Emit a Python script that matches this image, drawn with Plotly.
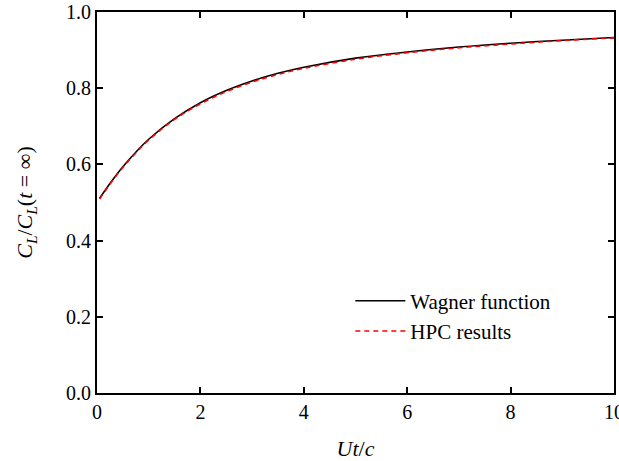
import plotly.graph_objects as go

# Values
ut_c = [0.05, 0.25, 0.5, 0.75, 1.0, 1.5, 2.0, 2.5, 3.0, 3.5, 4.0, 5.0, 6.0, 7.0, 8.0, 9.0, 10.0]
wagner = [0.511, 0.550, 0.594, 0.632, 0.666, 0.720, 0.762, 0.794, 0.819, 0.839, 0.855, 0.879, 0.895, 0.908, 0.918, 0.926, 0.933]
hpc = [0.509, 0.548, 0.592, 0.630, 0.664, 0.718, 0.759, 0.791, 0.816, 0.836, 0.852, 0.876, 0.893, 0.906, 0.916, 0.925, 0.932]

x_ticks = [0, 2, 4, 6, 8, 10]
y_ticks = [0.0, 0.2, 0.4, 0.6, 0.8, 1.0]

FONT = "Liberation Serif, Times New Roman, serif"

fig = go.Figure()
fig.add_trace(go.Scatter(x=ut_c, y=wagner, mode="lines", name="Wagner function",
                         line=dict(color="black", width=1.6, shape="spline")))
fig.add_trace(go.Scatter(x=ut_c, y=hpc, mode="lines", name="HPC results",
                         line=dict(color="red", width=1.6, dash="5px,4px", shape="spline")))

axis_common = dict(showline=True, linecolor="black", linewidth=1.8, mirror="ticks",
                   ticks="inside", ticklen=6, tickwidth=1.5, tickcolor="black",
                   showgrid=False, zeroline=False, automargin=False,
                   ticklabeloverflow="allow",
                   tickfont=dict(family=FONT, size=20, color="black"))

fig.update_xaxes(range=[0, 10], tickvals=x_ticks, ticktext=[str(v) for v in x_ticks],
                 title=dict(text="<i>Ut</i>/<i>c</i>", font=dict(family=FONT, size=22, color="black"),
                            standoff=20),
                 **axis_common)
fig.update_yaxes(range=[0, 1], tickvals=y_ticks, ticktext=[f"{v:.1f}" for v in y_ticks],
                 title=dict(text="<i>C<sub>L</sub></i>/<i>C<sub>L</sub></i>(<i>t</i> = ∞)",
                            font=dict(family=FONT, size=22, color="black"), standoff=27),
                 **axis_common)

fig.update_layout(
    width=619, height=461,
    margin=dict(l=97, r=5, t=12, b=68),
    paper_bgcolor="white", plot_bgcolor="white",
    font=dict(family=FONT, size=20, color="black"),
    legend=dict(x=0.49, y=0.295, xanchor="left", yanchor="top",
                bgcolor="rgba(0,0,0,0)", font=dict(family=FONT, size=21, color="black"),
                itemwidth=50, tracegroupgap=0),
    showlegend=True,
)

fig.write_html("out.html")
